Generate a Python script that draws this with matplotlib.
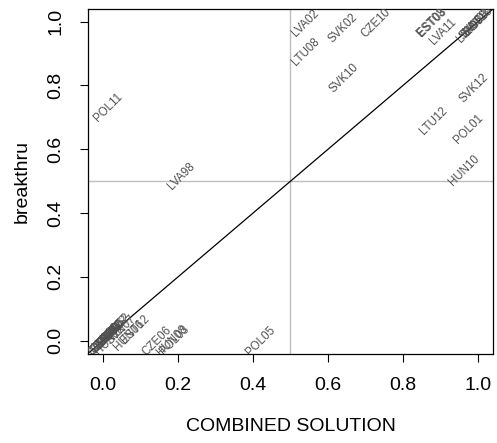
import numpy as np
import matplotlib
matplotlib.use("Agg")
import matplotlib.pyplot as plt

plt.rcParams['font.family'] = ['Liberation Sans', 'DejaVu Sans']

# country-year labels with (combined solution, breakthru) shares
labels = ["POL11", "LVA98", "LVA02", "LTU08", "SVK02", "CZE10", "SVK10",
          "EST03", "EST08", "LVA11",
          "LVA05", "SVN08", "SVN03", "EST10",
          "SVK12", "LTU12", "POL01", "HUN10",
          "POL05", "CZE06", "HUN08", "POL03",
          "SVN07", "EST12", "HUN06",
          "CZE02", "CZE03", "CZE08", "HUN02", "LTU02", "LTU05",
          "EST02", "SVN12", "HUN12", "LVA99"]
combined = [0.015, 0.21, 0.54, 0.54, 0.64, 0.727, 0.644,
            0.875, 0.879, 0.906,
            0.98, 0.99, 0.995, 1.0,
            0.99, 0.882, 0.976, 0.962,
            0.42, 0.145, 0.185, 0.19,
            0.05, 0.085, 0.07,
            0.0, -0.005, 0.005, 0.012, 0.018, 0.025,
            0.03, 0.035, 0.02, 0.008]
breakthru = [0.73, 0.515, 0.995, 0.905, 0.98, 0.995, 0.823,
             0.997, 0.999, 0.97,
             0.975, 0.99, 0.995, 1.0,
             0.79, 0.69, 0.664, 0.535,
             0.0, 0.0, 0.0, 0.003,
             0.034, 0.034, 0.018,
             0.0, -0.008, 0.006, 0.01, 0.018, 0.028,
             0.035, 0.04, 0.005, 0.015]

ticks = [0.0, 0.2, 0.4, 0.6, 0.8, 1.0]

fig = plt.figure(figsize=(4.97, 4.43), dpi=100)
ax = fig.add_axes([0.177, 0.202, 0.815, 0.778])
ax.set_xlim(-0.04, 1.04)
ax.set_ylim(-0.04, 1.04)

# reference lines
ax.axhline(0.5, color='#bebebe', lw=1)
ax.axvline(0.5, color='#bebebe', lw=1)
ax.plot([-0.04, 1.04], [-0.04, 1.04], color='black', lw=0.9)

for lab, x, y in zip(labels, combined, breakthru):
    ax.text(x, y, lab, rotation=45, ha='center', va='center',
            rotation_mode='anchor', fontsize=8.3, color='#505050', clip_on=True)

ax.set_xticks(ticks)
ax.set_yticks(ticks)
ax.set_xticklabels([f"{t:.1f}" for t in ticks])
ax.set_yticklabels([f"{t:.1f}" for t in ticks], rotation=90, va='center')
ax.tick_params(labelsize=14, length=6, width=0.8, pad=11)
for s in ax.spines.values():
    s.set_linewidth(0.9)

ax.set_xlabel("COMBINED SOLUTION", fontsize=14, labelpad=17)
ax.set_ylabel("breakthru", fontsize=14, labelpad=12)

fig.savefig("out.png", dpi=100)
